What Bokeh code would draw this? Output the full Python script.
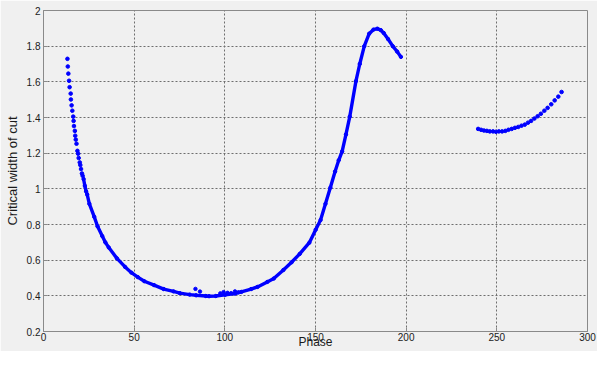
from bokeh.plotting import figure
from bokeh.models import FixedTicker, NumeralTickFormatter, Range1d
from bokeh.embed import file_html
from bokeh.resources import INLINE

# ---- data ----
phase_top = [13.2, 13.4, 13.7, 14.1, 14.4, 15.0, 15.1, 15.5, 15.9, 16.4, 16.6, 16.8,
             17.3, 17.5, 17.8, 18.2, 18.7, 19.1, 19.4, 20.0, 20.3, 20.7, 21.2, 21.6]
width_top = [1.729, 1.686, 1.646, 1.606, 1.570, 1.534, 1.501, 1.468, 1.438, 1.405, 1.381, 1.352,
             1.325, 1.298, 1.276, 1.253, 1.213, 1.197, 1.173, 1.148, 1.133, 1.111, 1.086, 1.073]

phase_curve = [22.1, 22.8, 23.5, 24.1, 25.3, 28.0, 29.8, 32.4, 34.1, 36.0, 40.5, 45.0,
               48.5, 52.0, 55.6, 61.0, 66.3, 71.7, 75.2, 80.6, 84.2, 89.5, 91.3, 95.0,
               100.2, 105.6, 109.1, 114.5, 118.0, 123.4, 127.0, 132.3, 136.8, 141.3, 146.6,
               150.1, 152.8, 155.5, 158.2, 160.8, 162.8, 164.7, 166.8, 168.9, 172.3, 174.4,
               176.9, 179.6, 182.0, 184.1, 186.0, 187.6, 190.0, 192.6, 195.0, 197.1]
width_curve = [1.055, 1.017, 0.986, 0.968, 0.916, 0.843, 0.790, 0.735, 0.700, 0.671, 0.610, 0.562,
               0.530, 0.505, 0.482, 0.460, 0.438, 0.425, 0.415, 0.407, 0.403, 0.399, 0.398, 0.399,
               0.406, 0.413, 0.422, 0.438, 0.450, 0.478, 0.497, 0.545, 0.588, 0.635, 0.698,
               0.771, 0.825, 0.916, 1.007, 1.097, 1.160, 1.210, 1.305, 1.405, 1.604, 1.700,
               1.800, 1.870, 1.893, 1.898, 1.890, 1.874, 1.840, 1.800, 1.770, 1.740]

phase_noise = [83.8, 86.3, 97.5, 99.3, 101.5, 103.5, 105.6, 107.5]
width_noise = [0.439, 0.424, 0.414, 0.421, 0.417, 0.415, 0.425, 0.420]

phase_right = [239.7, 241.3, 242.9, 244.5, 246.1, 247.9, 249.5, 251.1, 252.9, 254.7, 256.4,
               258.2, 260.0, 261.8, 263.6, 265.4, 267.2, 268.9, 270.7, 272.5, 274.3, 276.2,
               278.0, 280.0, 281.9, 283.9, 285.7]
width_right = [1.336, 1.331, 1.327, 1.325, 1.322, 1.322, 1.320, 1.322, 1.322, 1.325, 1.331,
               1.336, 1.342, 1.347, 1.354, 1.360, 1.371, 1.381, 1.394, 1.407, 1.421, 1.438,
               1.454, 1.474, 1.496, 1.517, 1.543]

x_ticks = [0, 50, 100, 150, 200, 250, 300]
y_ticks = [0.2, 0.4, 0.6, 0.8, 1.0, 1.2, 1.4, 1.6, 1.8, 2.0]
x_title = "Phase"
y_title = "Critical width of cut"

BG = "#f0f0f0"
BLUE = "#0000ff"
FONT = "Liberation Sans"

p = figure(width=597, height=351, output_backend="svg", toolbar_location=None,
           x_range=Range1d(0, 300), y_range=Range1d(0.2, 2.0),
           min_border_left=43, min_border_right=10, min_border_top=10, min_border_bottom=18)
p.background_fill_color = BG
p.border_fill_color = BG
p.outline_line_color = "#8a8a8a"
p.outline_line_width = 1

for ax in (p.xaxis[0], p.yaxis[0]):
    ax.axis_line_color = "#8a8a8a"
    ax.major_tick_line_color = "#8a8a8a"
    ax.major_tick_in = 4
    ax.major_tick_out = 0
    ax.minor_tick_line_color = None
    ax.major_label_text_font = FONT
    ax.major_label_text_font_size = "10px"
    ax.major_label_text_color = "#1a1a1a"
    ax.axis_label_text_font = FONT
    ax.axis_label_text_font_style = "normal"
    ax.axis_label_text_color = "#1a1a1a"

p.xaxis.ticker = FixedTicker(ticks=x_ticks)
p.yaxis.ticker = FixedTicker(ticks=y_ticks)
p.yaxis.formatter = NumeralTickFormatter(format="0.[0]")
p.xaxis.axis_label = x_title
p.yaxis.axis_label = y_title
p.xaxis.axis_label_text_font_size = "12px"
p.yaxis.axis_label_text_font_size = "13px"
p.xaxis.major_label_standoff = 1
p.xaxis.axis_label_standoff = -9
p.yaxis.major_label_standoff = 3
p.yaxis.axis_label_standoff = 4

for g in (p.xgrid[0], p.ygrid[0]):
    g.grid_line_color = "#6e6e6e"
    g.grid_line_dash = "2 2"
    g.grid_line_width = 1

p.line(phase_curve, width_curve, line_color=BLUE, line_width=3.4, line_join="round", line_cap="round")
p.scatter(phase_curve, width_curve, size=3.4, color=BLUE)
p.scatter(phase_top, width_top, size=3.6, color=BLUE)
p.scatter(phase_noise, width_noise, size=3.4, color=BLUE)
p.scatter(phase_right, width_right, size=3.6, color=BLUE)

open("out.html", "w").write(file_html(p, INLINE))
